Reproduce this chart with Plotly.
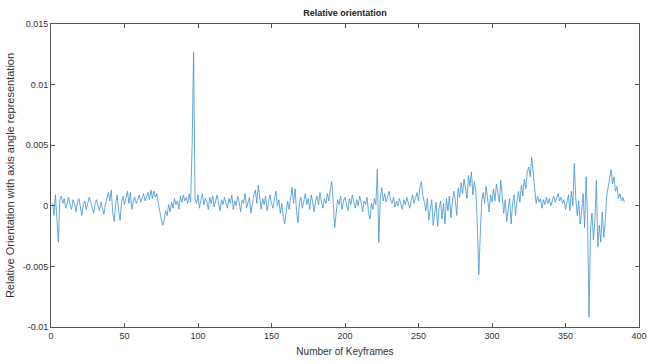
import plotly.graph_objects as go

# Relative orientation per keyframe, in units of 1e-3 (axis-angle magnitude)
keyframes = list(range(1, 391))
orientation_e3 = [
    0.2, -0.8, 0.9, -1.5, -3.0, 0.5, 0.8, 0.2, 0.6, -0.2,
    0.4, 0.7, 0.1, -0.3, 0.5, 0.2, -0.5, 0.3, 0.6, -0.2,
    -0.8, 0.1, 0.4, -0.3, 0.2, 0.7, 0.3, -0.1, -0.6, 0.2,
    0.5, 0.0, -0.4, 0.3, -0.2, -0.7, 0.1, 0.6, 1.1, 0.4,
    1.3, -0.6, -1.3, 0.2, 0.9, -0.4, -1.2, 0.3, 0.8, 0.1,
    0.6, 1.2, 0.2, 1.1, -0.3, 0.4, 0.7, 0.2, 0.5, 0.9,
    0.3, 0.6, 1.0, 0.4, 0.8, 1.1, 0.5, 1.3, 0.6, 1.2,
    0.7, 1.0, 0.2, -0.6, -1.1, -1.6, -1.2, -0.4, -0.8, 0.1,
    -0.5, 0.3, -0.2, 0.6, 0.1, 0.4, -0.3, 0.8, 0.3, 0.9,
    0.4, 0.7, 0.2, 1.0, 0.3, 5.0, 12.7, 0.6, 0.2, 0.9,
    -0.2, 0.5, 1.0, 0.1, 0.6, 0.3, -0.3, 0.7, 0.2, 0.8,
    -0.1, 0.4, 0.9, 0.2, -0.4, 0.5, 0.1, 0.7, 0.3, -0.2,
    0.6, 0.2, 0.9, -0.3, 0.4, 0.0, 0.8, 0.3, -0.5, 0.5,
    0.2, 1.0, -0.2, 0.4, 0.7, -0.6, 0.3, 0.9, 1.3, 0.2,
    1.7, 0.4, -0.3, 0.6, 0.1, 0.8, -0.4, 0.3, 0.9, 0.2,
    -0.2, 0.6, 1.2, 0.0, 0.5, -0.6, 0.2, -0.9, -1.5, -0.5,
    0.4, -0.3, 0.8, 1.5, 0.2, 1.4, -0.4, -1.4, 0.3, 0.7,
    -0.2, 0.5, 1.0, 0.1, 0.6, -0.3, 0.9, 0.3, -0.5, 0.4,
    0.8, 0.1, 1.1, 0.3, -0.2, 0.6, 0.2, 1.0, 0.4, 1.3,
    2.0, 0.2, -1.8, -0.6, 0.5, 0.1, 0.8, -0.3, 0.4, 0.7,
    0.2, -0.4, 0.6, 0.1, 0.9, 0.3, -0.2, 0.5, 0.0, 0.8,
    0.3, -0.5, 0.4, 0.1, 0.7, -0.6, -1.1, 0.2, -0.3, 0.6,
    0.1, 3.0, -3.0, 0.6, 1.5, 0.4, 1.0, 0.3, 0.8, 1.2,
    0.5, 0.2, 0.7, -0.1, 0.4, 0.0, 0.6, 0.2, -0.3, 0.5,
    0.1, 0.7, 0.3, -0.2, 0.4, 0.9, 0.2, 0.6, 1.1, 0.4,
    1.6, 2.0, 0.8, 0.3, -0.4, 0.6, -1.2, -0.3, 0.5, -1.6,
    -0.6, 0.3, -1.7, -0.2, 0.4, -1.1, 0.2, -1.5, 0.6, -0.4,
    0.8, -1.0, 0.3, 1.2, 0.5, -0.8, 1.5, 0.7, 1.9, 1.0,
    2.2, 1.4, 0.6, 2.5, 1.6, 2.8, 0.9, 2.0, 1.2, -1.5,
    -5.7, -2.5, 0.4, 1.1, 0.2, 1.6, 0.6, -0.5, 0.9, 0.3,
    1.4, 0.4, 1.8, 0.9, 0.3, 2.1, 0.8, -0.6, 0.5, -1.3,
    -0.3, 0.6, -1.5, 0.2, 0.9, -0.8, 0.4, 1.2, 0.3, 1.7,
    0.8, 2.2, 1.4, 2.8, 3.2, 2.4, 4.0, 3.0, 1.5, 0.2,
    0.8, 0.3, 0.6, -0.2, 0.5, 0.1, 0.7, 0.2, 0.6, 0.0,
    0.4, 0.8, 0.3, 0.6, 1.0, 0.4, 0.7, 0.2, 0.5, -0.3,
    0.3, 0.9, -0.4, 1.2, 0.0, 3.5, 0.6, -0.8, 0.4, -1.5,
    -0.5, 1.0, -1.8, 2.4, -0.9, -9.2, -2.0, -0.6, -2.8, -1.2,
    2.1, -3.4, -1.6, -3.0, -0.5, -2.6, -1.4, 0.8, 1.5, 2.2,
    3.0, 1.8, 2.4, 1.2, 1.6, 0.6, 1.0, 0.4, 0.7, 0.3,
]
orientation = [v / 1000 for v in orientation_e3]

x_ticks = [0, 50, 100, 150, 200, 250, 300, 350, 400]
y_ticks = [-0.01, -0.005, 0, 0.005, 0.01, 0.015]
y_tick_text = ["-0.01", "-0.005", "0", "0.005", "0.01", "0.015"]

axis_color = "#555555"
font_family = "Liberation Sans, Arial, sans-serif"

fig = go.Figure()
fig.add_trace(go.Scatter(
    x=keyframes, y=orientation, mode="lines",
    line=dict(color="#3d93d4", width=0.8),
    showlegend=False,
))

axis_common = dict(
    showgrid=False, zeroline=False, automargin=False,
    showline=True, linecolor=axis_color, linewidth=1, mirror="ticks",
    ticks="inside", ticklen=4, tickcolor=axis_color, tickwidth=1,
    tickfont=dict(family=font_family, size=9, color="#333333"),
)

fig.update_layout(
    width=656, height=364,
    margin=dict(l=51, r=17, t=24, b=37),
    paper_bgcolor="white", plot_bgcolor="white",
    title=dict(
        text="<b>Relative orientation</b>",
        x=(51 + 639) / 2 / 656, xanchor="center",
        y=1 - 13 / 364, yanchor="middle",
        font=dict(family=font_family, size=9, color="#222222"),
    ),
    xaxis=dict(
        range=[0, 400], tickvals=x_ticks,
        title=dict(text="Number of Keyframes", standoff=8,
                   font=dict(family=font_family, size=10, color="#333333")),
        **axis_common,
    ),
    yaxis=dict(
        range=[-0.01, 0.015], tickvals=y_ticks, ticktext=y_tick_text,
        title=dict(text="Relative Orientation with axis angle representation",
                   standoff=5,
                   font=dict(family=font_family, size=11, color="#333333")),
        **axis_common,
    ),
)

fig.write_html("out.html")
